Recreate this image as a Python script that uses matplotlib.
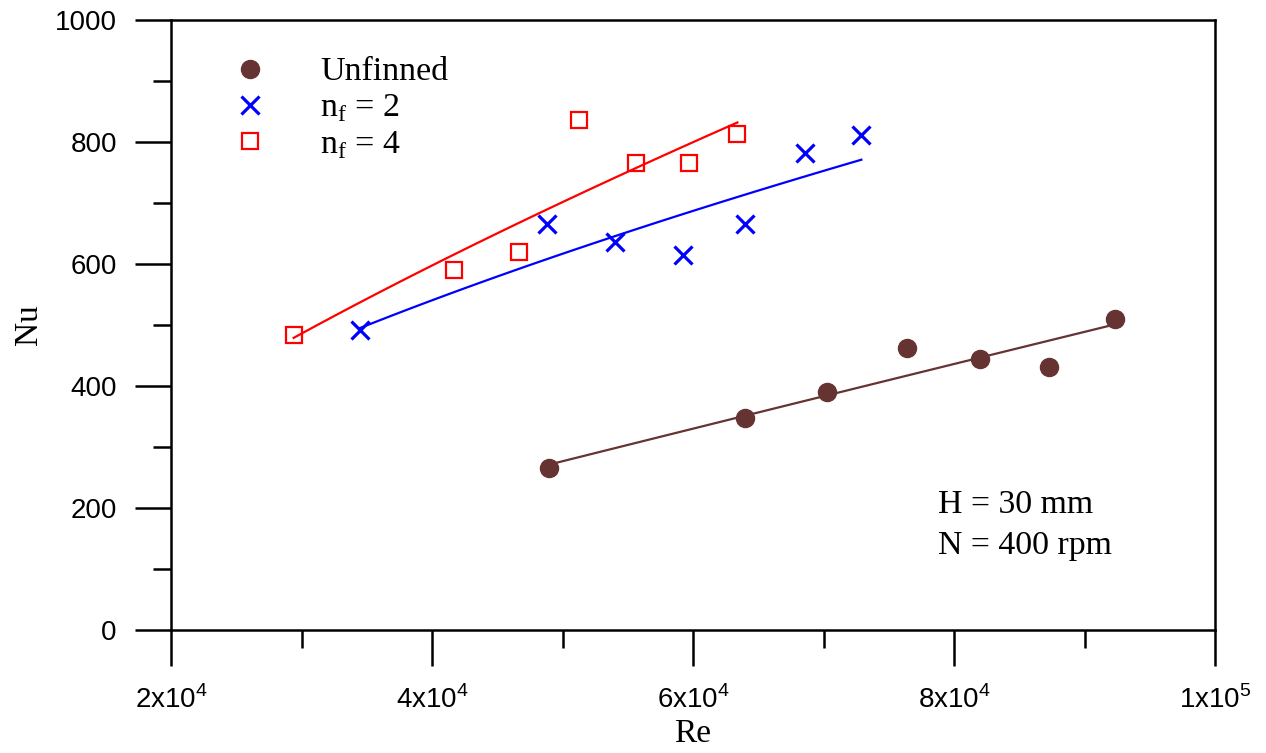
import numpy as np
import matplotlib
matplotlib.use("Agg")
import matplotlib.pyplot as plt
from matplotlib.ticker import MultipleLocator, FixedLocator
from matplotlib.lines import Line2D

plt.rcParams['mathtext.fontset'] = 'custom'
plt.rcParams['mathtext.rm'] = 'Liberation Sans'

# Data
re_unfinned = [4.90e4, 6.40e4, 7.03e4, 7.64e4, 8.20e4, 8.73e4, 9.23e4]
nu_unfinned = [266, 347, 390, 462, 444, 431, 510]

re_nf2 = [3.45e4, 4.88e4, 5.40e4, 5.92e4, 6.40e4, 6.86e4, 7.29e4]
nu_nf2 = [492, 666, 636, 615, 666, 782, 812]

re_nf4 = [2.94e4, 4.17e4, 4.67e4, 5.13e4, 5.56e4, 5.97e4, 6.34e4]
nu_nf4 = [484, 590, 620, 836, 766, 766, 813]

x_ticks = [2e4, 4e4, 6e4, 8e4, 1e5]
x_ticklabels = [r'2x10$^{\mathregular{4}}$', r'4x10$^{\mathregular{4}}$',
                r'6x10$^{\mathregular{4}}$', r'8x10$^{\mathregular{4}}$',
                r'1x10$^{\mathregular{5}}$']
y_ticks = [0, 200, 400, 600, 800, 1000]

brown = '#663333'
blue = '#0000FF'
red = '#FF0000'

fig = plt.figure(figsize=(12.66, 7.53), dpi=100)
ax = fig.add_axes([171/1266, 1-630/753, (1215-171)/1266, (630-20)/753])

def fit_line(x, y):
    x = np.asarray(x); y = np.asarray(y)
    b, a = np.polyfit(np.log(x), np.log(y), 1)
    xs = np.linspace(x.min(), x.max(), 100)
    return xs, np.exp(a) * xs ** b

for x, y, c in [(re_unfinned, nu_unfinned, brown), (re_nf2, nu_nf2, blue), (re_nf4, nu_nf4, red)]:
    xs, ys = fit_line(x, y)
    ax.plot(xs, ys, color=c, lw=1.6, zorder=2)

ax.plot(re_unfinned, nu_unfinned, 'o', color=brown, ms=13, ls='none', zorder=3)
ax.plot(re_nf2, nu_nf2, 'x', color=blue, ms=12.5, mew=2.3, ls='none', zorder=3)
ax.plot(re_nf4, nu_nf4, 's', mfc='none', mec=red, ms=12, mew=1.6, ls='none', zorder=3)

ax.set_xlim(2e4, 1e5)
ax.set_ylim(0, 1000)
ax.xaxis.set_major_locator(FixedLocator(x_ticks))
ax.xaxis.set_minor_locator(MultipleLocator(1e4))
ax.yaxis.set_major_locator(FixedLocator(y_ticks))
ax.yaxis.set_minor_locator(MultipleLocator(100))
ax.set_xticklabels(x_ticklabels)
ax.set_yticklabels([str(v) for v in y_ticks])

for s in ax.spines.values():
    s.set_linewidth(1.8)
ax.tick_params(which='major', direction='out', length=26, width=1.8, pad=13,
               labelsize=20)
ax.tick_params(which='minor', direction='out', length=13, width=1.8)
ax.tick_params(axis='x', which='major', pad=14)
for lab in ax.get_xticklabels() + ax.get_yticklabels():
    lab.set_fontfamily('Liberation Sans')

ax.set_xlabel('Re', family='Liberation Serif', fontsize=24, labelpad=3)
ax.set_ylabel('Nu', family='Liberation Serif', fontsize=24, labelpad=8)

handles = [Line2D([], [], marker='o', color=brown, ls='none', ms=13),
           Line2D([], [], marker='x', color=blue, ls='none', ms=12.5, mew=2.3),
           Line2D([], [], marker='s', mfc='none', mec=red, ls='none', ms=12, mew=1.6)]
labels = ['Unfinned', r'n$_{\mathregular{f}}$ = 2', r'n$_{\mathregular{f}}$ = 4']
leg = ax.legend(handles, labels, loc='upper left', bbox_to_anchor=(0.0594, 0.940),
                frameon=False, handlelength=1.0, handletextpad=1.56,
                labelspacing=0.15, borderpad=0, borderaxespad=0,
                prop={'family': 'Liberation Serif', 'size': 24.5})

ax.text(0.735, 0.205, 'H = 30 mm', transform=ax.transAxes,
        family='Liberation Serif', fontsize=24.4, va='center', ha='left')
ax.text(0.735, 0.138, 'N = 400 rpm', transform=ax.transAxes,
        family='Liberation Serif', fontsize=24.4, va='center', ha='left')

fig.savefig('out.png', dpi=100)
